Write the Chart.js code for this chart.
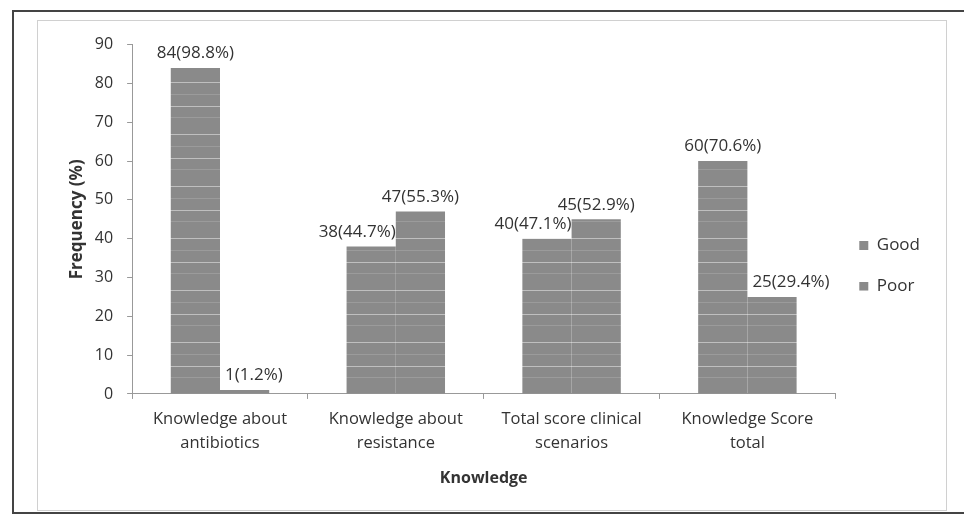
<!DOCTYPE html>
<html>
<head>
<meta charset="utf-8">
<script src="https://cdn.jsdelivr.net/npm/chart.js@4.4.1/dist/chart.umd.min.js"></script>
<style>
    html, body { margin: 0; padding: 0; background: #fff; }
    body { width: 964px; height: 518px; position: relative; overflow: hidden; }
    .outer { position: absolute; left: 12px; top: 10px; width: 952px; height: 504px; border: 2px solid #444; border-right: none; box-sizing: border-box; }
    .inner { position: absolute; left: 37px; top: 20px; width: 910px; height: 491px; border: 1px solid #d0d0d0; box-sizing: border-box; }
    #wrap { position: absolute; left: 38px; top: 21px; width: 908px; height: 488px; }
</style>
</head>
<body>
<div class="outer"></div>
<div class="inner"></div>
<div id="wrap"><canvas id="knowledgeChart"></canvas></div>
<script>
// Knowledge levels - good vs poor
const categories = [
    ['Knowledge about', 'antibiotics'],
    ['Knowledge about', 'resistance'],
    ['Total score clinical', 'scenarios'],
    ['Knowledge Score', 'total']
];
const goodCounts = [84, 38, 40, 60];
const goodPercent = [98.8, 44.7, 47.1, 70.6];
const poorCounts = [1, 47, 45, 25];
const poorPercent = [1.2, 55.3, 52.9, 29.4];
const yTicks = [0, 10, 20, 30, 40, 50, 60, 70, 80, 90];

const textColor = '#333333';
const fontFamily = "'Open Sans', 'DejaVu Sans', sans-serif";

// grey fill with faint light streaks, like the printed/scanned bars
function makeBarFill() {
    const tile = document.createElement('canvas');
    tile.width = 8;
    tile.height = 52;
    const t = tile.getContext('2d');
    t.fillStyle = '#8a8a8a';
    t.fillRect(0, 0, 8, 52);
    t.fillStyle = 'rgba(255,255,255,0.45)';
    t.fillRect(0, 9, 8, 1);
    t.fillRect(0, 33, 8, 1);
    t.fillStyle = 'rgba(255,255,255,0.15)';
    t.fillRect(0, 21, 8, 1);
    t.fillRect(0, 44, 8, 1);
    return t.createPattern(tile, 'repeat');
}
const barFill = makeBarFill();

// value labels like 84(98.8%) above each bar, nudged sideways when the
// neighbouring bar is taller so the text does not run into it
const barLabels = {
    id: 'barLabels',
    afterDatasetsDraw(chart) {
        const ctx = chart.ctx;
        const pcts = [goodPercent, poorPercent];
        const metaGood = chart.getDatasetMeta(0);
        const metaPoor = chart.getDatasetMeta(1);
        ctx.save();
        ctx.font = '17px ' + fontFamily;
        ctx.fillStyle = textColor;
        ctx.textBaseline = 'bottom';
        ctx.textAlign = 'left';
        [metaGood, metaPoor].forEach((meta, di) => {
            meta.data.forEach((bar, i) => {
                const value = chart.data.datasets[di].data[i];
                const text = value + '(' + pcts[di][i] + '%)';
                const w = ctx.measureText(text).width;
                const half = bar.width / 2;
                let left = bar.x - w / 2;
                if (di === 0) {
                    const other = metaPoor.data[i];
                    if (other.y < bar.y && left + w > bar.x + half) left = bar.x + half - w;
                } else {
                    const other = metaGood.data[i];
                    if (other.y < bar.y && left < bar.x - half) left = bar.x - half + 5;
                }
                ctx.fillText(text, left, bar.y - 6);
            });
        });
        ctx.restore();
    }
};

const ctx = document.getElementById('knowledgeChart');
new Chart(ctx, {
    type: 'bar',
    data: {
        labels: categories,
        datasets: [
            {
                label: 'Good',
                data: goodCounts,
                backgroundColor: barFill,
                borderWidth: 0,
                barPercentage: 1,
                categoryPercentage: 0.56
            },
            {
                label: 'Poor',
                data: poorCounts,
                backgroundColor: barFill,
                borderWidth: 0,
                barPercentage: 1,
                categoryPercentage: 0.56
            }
        ]
    },
    options: {
        responsive: true,
        maintainAspectRatio: false,
        animation: false,
        layout: {
            padding: { top: 19, right: 16, bottom: 17, left: 22 }
        },
        plugins: {
            legend: {
                display: true,
                position: 'right',
                labels: {
                    boxWidth: 9,
                    boxHeight: 9,
                    padding: 24,
                    color: textColor,
                    font: { family: fontFamily, size: 17 }
                }
            },
            tooltip: { enabled: false }
        },
        scales: {
            x: {
                grid: {
                    display: true,
                    drawOnChartArea: false,
                    tickLength: 5,
                    color: '#999'
                },
                border: { color: '#999' },
                ticks: {
                    color: textColor,
                    padding: 8,
                    font: { family: fontFamily, size: 16.5, lineHeight: 1.45 }
                },
                title: {
                    display: true,
                    text: 'Knowledge',
                    color: textColor,
                    padding: { top: 6 },
                    font: { family: fontFamily, size: 16, weight: 'bold' }
                }
            },
            y: {
                min: yTicks[0],
                max: yTicks[yTicks.length - 1],
                afterBuildTicks(axis) {
                    axis.ticks = yTicks.map(v => ({ value: v }));
                },
                grid: {
                    display: true,
                    drawOnChartArea: false,
                    tickLength: 5,
                    color: '#999'
                },
                border: { color: '#999' },
                ticks: {
                    color: textColor,
                    padding: 14,
                    font: { family: fontFamily, size: 16 }
                },
                title: {
                    display: true,
                    text: 'Frequency (%)',
                    color: textColor,
                    padding: { top: 14, bottom: 0 },
                    font: { family: fontFamily, size: 17, weight: 'bold', lineHeight: 0.4 }
                }
            }
        }
    },
    plugins: [barLabels]
});
</script>
</body>
</html>
